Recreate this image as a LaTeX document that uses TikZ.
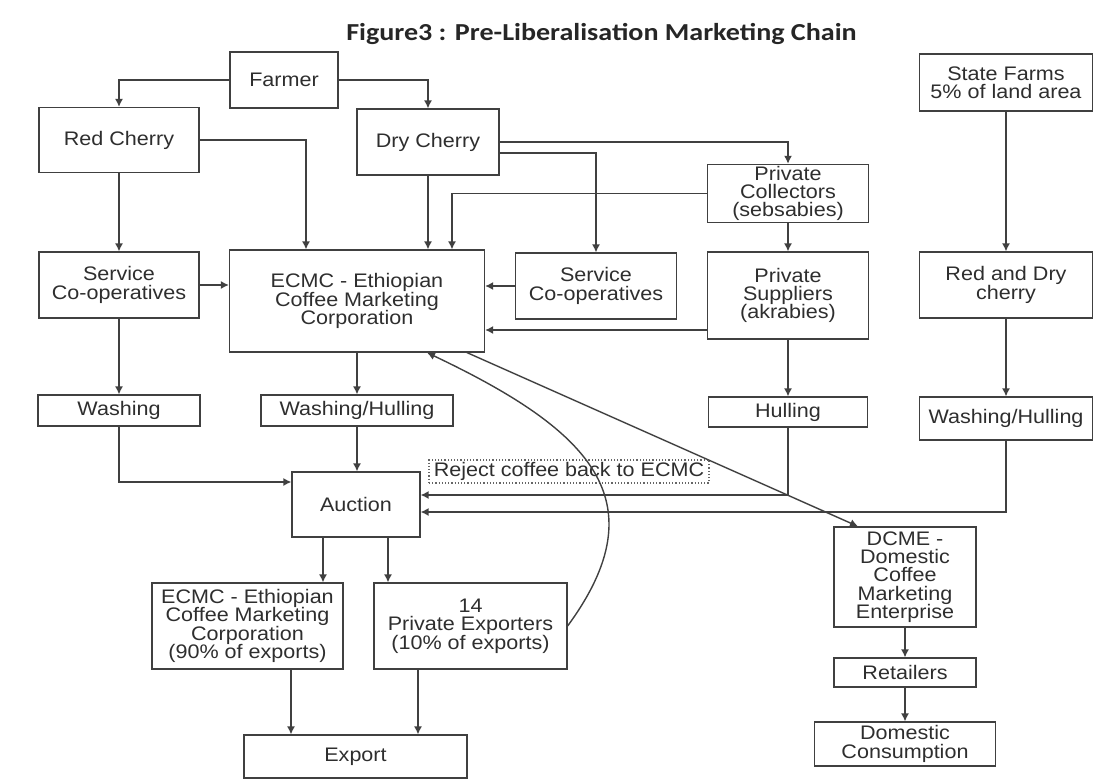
\documentclass[tikz,border=0pt]{standalone}
\usepackage{fontspec}
\setmainfont[FakeStretch=1.1]{Liberation Sans}
\newfontfamily\titlefont[FakeStretch=1.15]{Carlito}
\usetikzlibrary{arrows.meta}
\definecolor{ink}{gray}{0.25}
\definecolor{txt}{gray}{0.18}
\tikzset{
  box/.style 2 args={draw=ink, line width=0.6pt, minimum width=#1, minimum height=#2,
    align=center, inner sep=0.8pt, text=txt, font=\fontsize{9.8}{9.2}\selectfont},
  rejectbox/.style={draw=ink!80, densely dotted, line width=0.6pt, minimum width=140pt,
    minimum height=11.5pt, inner sep=0.5pt, text=txt, font=\fontsize{9.8}{9.2}\selectfont},
}
\begin{document}
\begin{tikzpicture}[x=1pt, y=-1pt, line width=0.7pt, draw=ink, >={Latex[length=4pt,width=4pt]}]
\useasboundingbox (0,0) rectangle (548.5,391);
%\draw[help lines, step=10pt] (0,0) grid (548.5,391);
\node[font=\titlefont\bfseries\fontsize{12.2}{14}\selectfont, text=black!85](title) at (300.75,17){Figure3 : Pre-Liberalisation Marketing Chain};
%%%%%%%%%%%%%%%%%%%%%%%%%%%%%%% growers
\node[box={54pt}{28pt}](farmer) at (142,40){Farmer};
\node[box={80pt}{32.5pt}](redcherry) at (59.5,70){Red Cherry};
\node[box={71pt}{33pt}](drycherry) at (214,71){Dry Cherry};
\node[box={86.5pt}{28.5pt}](statefarms) at (503,41.25){State Farms\\5\% of land area};
\node[box={80.5pt}{27.5pt}](collectors) at (394,96.75){Private\\Collectors\\(sebsabies)};
%%%%%%%%%%%%%%%%%%%%%%%%%%%%%%% buyers
\node[box={80pt}{33pt}](servleft) at (59.5,142.5){Service\\Co-operatives};
\node[box={127.5pt}{51pt}](ecmc) at (178.5,150.5){ECMC - Ethiopian\\Coffee Marketing\\Corporation};
\node[box={80.5pt}{33pt}](servmid) at (298,143){Service\\Co-operatives};
\node[box={80.5pt}{43.5pt}](suppliers) at (394,147.75){Private\\Suppliers\\(akrabies)};
\node[box={86.5pt}{33pt}](redanddry) at (503,142.5){Red and Dry\\cherry};
%%%%%%%%%%%%%%%%%%%%%%%%%%%%%%% processing
\node[box={81pt}{15.5pt}](washing) at (59.5,205.25){Washing};
\node[box={96pt}{15.5pt}](washhull) at (178.5,205.25){Washing/Hulling};
\node[box={79.5pt}{15pt}](hulling) at (394,206){Hulling};
\node[box={86.5pt}{21.5pt}](washhullr) at (503,209.25){Washing/Hulling};
\node[rejectbox](reject) at (284.5,235.75){Reject coffee back to ECMC};
\node[box={64pt}{32.5pt}](auction) at (178,252.25){Auction};
%%%%%%%%%%%%%%%%%%%%%%%%%%%%%%% exporters and home market
\node[box={71pt}{50pt}](dcme) at (452.5,288.5){DCME -\\Domestic\\Coffee\\Marketing\\Enterprise};
\node[box={95.5pt}{43pt}](ecmcexp) at (123.75,313){ECMC - Ethiopian\\Coffee Marketing\\Corporation\\(90\% of exports)};
\node[box={96.5pt}{43pt}](exporters) at (235.25,313){14\\Private Exporters\\(10\% of exports)};
\node[box={71pt}{14.5pt}](retailers) at (452.5,336.25){Retailers};
\node[box={111.5pt}{21.5pt}](export) at (177.75,378.25){Export};
\node[box={90.5pt}{22pt}](domestic) at (452.5,372){Domestic\\Consumption};
%%%%%%%%%%%%%%%%%%%%%%%%%%%%%%% points where lines meet boxes off centre
\coordinate(ecmcin1) at ([xshift=-25.5pt]ecmc.north);
\coordinate(ecmcin2) at ([xshift=47.5pt]ecmc.north);
\coordinate(dcout) at ([yshift=-5.5pt]drycherry.east);
\coordinate(supout) at ([yshift=-17.25pt]suppliers.west);
\coordinate(aucin1) at ([yshift=11.25pt]auction.west);
\coordinate(aucin2) at ([yshift=4.75pt]auction.east);
\coordinate(aucin3) at ([yshift=-3.75pt]auction.east);
\coordinate(aucout1) at ([xshift=-16.5pt]auction.south);
\coordinate(aucout2) at ([xshift=16pt]auction.south);
\coordinate(ecmcexpout) at ([xshift=21.75pt]ecmcexp.south);
\coordinate(exportersout) at ([xshift=-26.25pt]exporters.south);
\coordinate(ecmcout) at ([xshift=55pt]ecmc.south);
\coordinate(ecmcback) at ([xshift=35pt]ecmc.south);
\coordinate(dcmein) at ([xshift=-23.5pt]dcme.north);
%%%%%%%%%%%%%%%%%%%%%%%%%%%%%%% top part
\draw[->] (farmer) -| (redcherry);
\draw[->] (farmer) -| (drycherry);
\draw[->] (redcherry.east) -| (ecmcin1);
\draw[->] (drycherry) -- (drycherry |- ecmc.north);
\draw[->] (drycherry) -| (collectors);
\draw[->] (dcout) -| (servmid);
\draw[->] (collectors.west) -| (ecmcin2);
\draw[->] (redcherry) -- (servleft);
\draw[->] (collectors) -- (suppliers);
\draw[->] (statefarms) -- (redanddry);
\draw[->] (servleft.east) -- (servleft.east -| ecmc.west);
\draw[->] (servmid.west) -- (servmid.west -| ecmc.east);
\draw[->] (supout) -- (supout -| ecmc.east);
%%%%%%%%%%%%%%%%%%%%%%%%%%%%%%% middle part
\draw[->] (servleft) -- (washing);
\draw[->] (ecmc) -- (ecmc |- washhull.north);
\draw[->] (suppliers) -- (hulling);
\draw[->] (redanddry) -- (redanddry |- washhullr.north);
\draw[->] (washing) |- (aucin1);
\draw[->] (washhull) -- (washhull |- auction.north);
\draw[->] (hulling) |- (aucin2);
\draw[->] (washhullr) |- (aucin3);
%%%%%%%%%%%%%%%%%%%%%%%%%%%%%%% bottom part
\draw[->] (aucout1) -- (aucout1 |- ecmcexp.north);
\draw[->] (aucout2) -- (aucout2 |- exporters.north);
\draw[->] (ecmcexpout) -- (ecmcexpout |- export.north);
\draw[->] (exportersout) -- (exportersout |- export.north);
\draw[->] (ecmcout) -- (dcmein);
\draw[->] (exporters.east) .. controls (330,250) and (295,215) .. (ecmcback);
\draw[->] (dcme) -- (retailers);
\draw[->] (retailers) -- (domestic);
\end{tikzpicture}
\end{document}
